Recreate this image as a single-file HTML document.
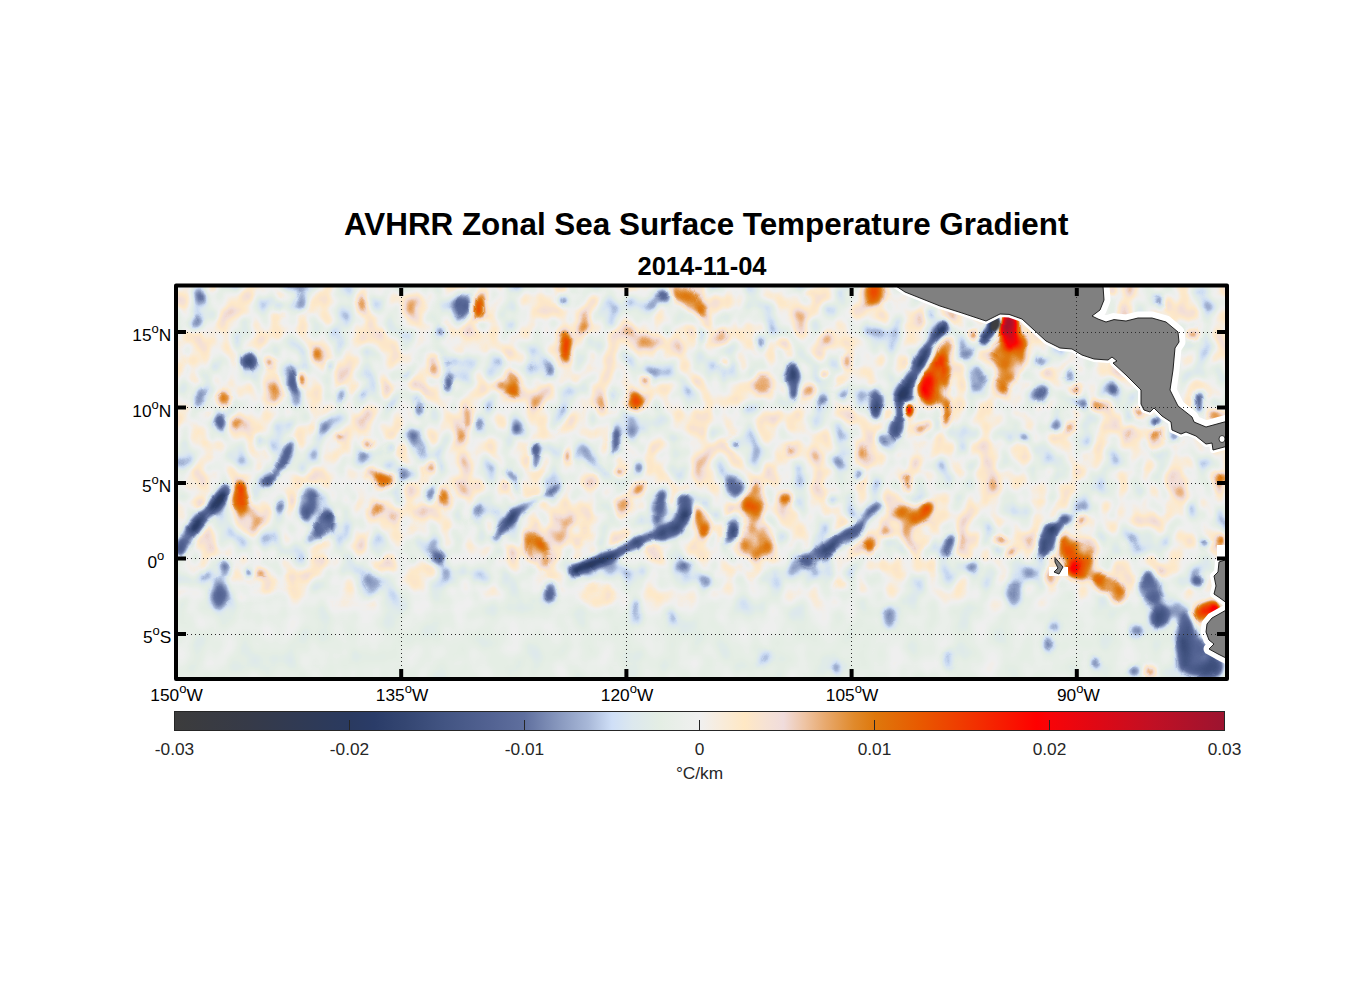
<!DOCTYPE html>
<html><head><meta charset="utf-8"><title>AVHRR Zonal Sea Surface Temperature Gradient</title>
<style>
html,body{margin:0;padding:0;background:#fff;}
body{width:1356px;height:1000px;overflow:hidden;font-family:"Liberation Sans",sans-serif;}
svg{display:block}
text{font-family:"Liberation Sans",sans-serif;}
.t{font-size:17.3px;fill:#000}
.c{font-size:17.3px;fill:#262626}
.s{font-size:13px}
</style></head><body>
<svg width="1356" height="1000" viewBox="0 0 1356 1000">
<defs>
<linearGradient id="cb" x1="0" x2="1" y1="0" y2="0">
<stop offset="0" stop-color="#3c3c3c"/>
<stop offset="0.07" stop-color="#363a48"/>
<stop offset="0.167" stop-color="#2a3a60"/>
<stop offset="0.19" stop-color="#2a3c68"/>
<stop offset="0.22" stop-color="#344672"/>
<stop offset="0.256" stop-color="#425482"/>
<stop offset="0.3" stop-color="#526292"/>
<stop offset="0.333" stop-color="#5f6f9e"/>
<stop offset="0.366" stop-color="#8898be"/>
<stop offset="0.394" stop-color="#a8b8d8"/>
<stop offset="0.4167" stop-color="#cfdff7"/>
<stop offset="0.436" stop-color="#dce8ee"/>
<stop offset="0.462" stop-color="#e4eee4"/>
<stop offset="0.5" stop-color="#f0f0f0"/>
<stop offset="0.52" stop-color="#f8ecdc"/>
<stop offset="0.543" stop-color="#ffe8c4"/>
<stop offset="0.563" stop-color="#f6e2d4"/>
<stop offset="0.58" stop-color="#f0dcdc"/>
<stop offset="0.6" stop-color="#eec4a4"/>
<stop offset="0.619" stop-color="#e8aa70"/>
<stop offset="0.647" stop-color="#e08a2c"/>
<stop offset="0.667" stop-color="#de780c"/>
<stop offset="0.709" stop-color="#e85a00"/>
<stop offset="0.751" stop-color="#f03a00"/>
<stop offset="0.793" stop-color="#f81800"/>
<stop offset="0.821" stop-color="#ff0000"/>
<stop offset="0.833" stop-color="#f80408"/>
<stop offset="0.877" stop-color="#e00814"/>
<stop offset="0.933" stop-color="#c01024"/>
<stop offset="1" stop-color="#9c1430"/>
</linearGradient>
<clipPath id="mc"><rect x="178" y="287" width="1047" height="390"/></clipPath>
<!--FILT-->
<filter id="field" x="150" y="260" width="1100" height="445" filterUnits="userSpaceOnUse" color-interpolation-filters="sRGB">
<feTurbulence type="fractalNoise" baseFrequency="0.042 0.034" numOctaves="2" seed="7" result="n0"/>
<feColorMatrix in="n0" type="matrix" values="1 0 0 0 0  1 0 0 0 0  1 0 0 0 0  0 0 0 0 1" result="n"/>
<feFlood flood-color="#686868" flood-opacity="0.74" x="150" y="592" width="1100" height="130" result="fl"/>
<feGaussianBlur in="fl" stdDeviation="0.5 18" x="150" y="260" width="1100" height="445" result="flb"/>
<feMerge result="nm"><feMergeNode in="n"/><feMergeNode in="flb"/></feMerge>
<feGaussianBlur in="SourceGraphic" stdDeviation="3.2" result="sb"/>
<feTurbulence type="fractalNoise" baseFrequency="0.05" numOctaves="1" seed="11" result="dn"/>
<feDisplacementMap in="sb" in2="dn" scale="6" xChannelSelector="R" yChannelSelector="G" result="sd"/>
<feComposite in="sd" in2="nm" operator="arithmetic" k1="0" k2="1" k3="0.35" k4="-0.181" result="f"/>
<feComponentTransfer in="f">
<feFuncR type="table" tableValues="0.235 0.231 0.227 0.223 0.218 0.214 0.209 0.203 0.197 0.191 0.185 0.179 0.173 0.167 0.165 0.165 0.178 0.194 0.212 0.231 0.250 0.268 0.286 0.304 0.322 0.341 0.360 0.394 0.455 0.516 0.574 0.630 0.699 0.783 0.834 0.865 0.880 0.895 0.910 0.926 0.941 0.961 0.979 0.993 0.988 0.966 0.948 0.938 0.933 0.918 0.903 0.889 0.877 0.872 0.878 0.890 0.901 0.912 0.922 0.931 0.940 0.950 0.959 0.968 0.979 0.992 0.991 0.963 0.936 0.909 0.883 0.855 0.827 0.799 0.771 0.743 0.717 0.691 0.664 0.638 0.612"/>
<feFuncG type="table" tableValues="0.235 0.234 0.232 0.231 0.230 0.228 0.227 0.227 0.227 0.227 0.227 0.227 0.227 0.227 0.230 0.234 0.248 0.265 0.282 0.301 0.320 0.338 0.353 0.369 0.384 0.404 0.423 0.457 0.518 0.579 0.636 0.692 0.762 0.846 0.890 0.911 0.922 0.933 0.936 0.939 0.941 0.931 0.922 0.914 0.902 0.887 0.870 0.827 0.769 0.702 0.640 0.584 0.531 0.486 0.448 0.413 0.378 0.342 0.305 0.268 0.230 0.191 0.151 0.112 0.071 0.029 0.005 0.017 0.022 0.026 0.031 0.037 0.044 0.051 0.058 0.064 0.067 0.070 0.073 0.076 0.078"/>
<feFuncB type="table" tableValues="0.235 0.244 0.252 0.261 0.269 0.277 0.287 0.299 0.311 0.324 0.336 0.348 0.360 0.372 0.387 0.404 0.421 0.437 0.456 0.478 0.499 0.519 0.537 0.555 0.573 0.590 0.608 0.637 0.684 0.732 0.778 0.823 0.879 0.946 0.953 0.931 0.912 0.895 0.910 0.926 0.941 0.892 0.842 0.791 0.791 0.830 0.854 0.780 0.643 0.509 0.382 0.263 0.154 0.075 0.038 0.024 0.010 0.000 0.000 0.000 0.000 0.000 0.000 0.000 0.000 0.000 0.010 0.036 0.050 0.063 0.076 0.090 0.104 0.118 0.132 0.144 0.153 0.162 0.171 0.179 0.188"/>
<feFuncA type="linear" slope="0" intercept="1"/>
</feComponentTransfer>
</filter>
<!--/FILT-->
<filter id="b1" x="-30%" y="-30%" width="160%" height="160%"><feGaussianBlur stdDeviation="1"/></filter>
</defs>
<rect width="1356" height="1000" fill="#fff"/>
<!-- title -->
<text x="706.2" y="235" text-anchor="middle" font-size="31.4" font-weight="bold" fill="#000">AVHRR Zonal Sea Surface Temperature Gradient</text>
<text x="702" y="275" text-anchor="middle" font-size="25.5" font-weight="bold" fill="#000">2014-11-04</text>
<!-- map -->
<g clip-path="url(#mc)" id="map">
<rect x="176" y="285" width="1051" height="394" fill="#eef0ee"/>

<!--BLOBS-->
<g filter="url(#field)">
<rect x="150" y="260" width="1100" height="445" fill="#808080"/>
<ellipse cx="237" cy="424" rx="4.9" ry="6" fill="#909090"/>
<ellipse cx="368" cy="444" rx="4.9" ry="7.1" fill="#939393"/>
<ellipse cx="357" cy="389" rx="8.2" ry="4.9" fill="#929292" transform="rotate(-40 357 389)"/>
<ellipse cx="181" cy="361" rx="3.8" ry="11.5" fill="#8d8d8d"/>
<ellipse cx="646" cy="350" rx="22.5" ry="15.9" fill="#8c8c8c"/>
<ellipse cx="952" cy="321" rx="4.9" ry="7.1" fill="#8e8e8e"/>
<ellipse cx="725" cy="363" rx="4.9" ry="4.9" fill="#b4b4b4"/>
<ellipse cx="806" cy="292" rx="4.9" ry="6" fill="#939393"/>
<ellipse cx="1126" cy="432" rx="6" ry="6" fill="#8e8e8e"/>
<ellipse cx="390" cy="514" rx="6" ry="6" fill="#8e8e8e"/>
<ellipse cx="252" cy="522" rx="9.3" ry="15.9" fill="#8c8c8c"/>
<ellipse cx="276" cy="585" rx="44.5" ry="6" fill="#8c8c8c" transform="rotate(-20 276 585)"/>
<ellipse cx="558" cy="532" rx="33.5" ry="13.7" fill="#8c8c8c"/>
<ellipse cx="598" cy="596" rx="18.1" ry="13.7" fill="#909090"/>
<ellipse cx="752" cy="568" rx="13.7" ry="9.3" fill="#909090"/>
<ellipse cx="840" cy="584" rx="6" ry="6" fill="#979797"/>
<ellipse cx="755" cy="529" rx="3.25" ry="3.25" fill="#919191"/>
<ellipse cx="1190" cy="591" rx="2.7" ry="2.7" fill="#a4a4a4"/>
<ellipse cx="385" cy="390" rx="7.1" ry="9.3" fill="#959595"/>
<ellipse cx="318" cy="356" rx="4.9" ry="8.2" fill="#989898"/>
<ellipse cx="784" cy="344" rx="6" ry="7.1" fill="#9b9b9b"/>
<ellipse cx="916" cy="540" rx="18.1" ry="9.3" fill="#999999"/>
<ellipse cx="1090" cy="546" rx="11.5" ry="9.3" fill="#959595"/>
<ellipse cx="201" cy="295" rx="6" ry="6" fill="#676767"/>
<ellipse cx="301" cy="302" rx="6" ry="13.7" fill="#6b6b6b" transform="rotate(20 301 302)"/>
<ellipse cx="410" cy="372" rx="9.3" ry="4.9" fill="#5c5c5c" transform="rotate(-35 410 372)"/>
<ellipse cx="258" cy="442" rx="6" ry="8.2" fill="#696969"/>
<ellipse cx="322" cy="428" rx="4.9" ry="7.1" fill="#676767"/>
<ellipse cx="389" cy="446" rx="4.9" ry="7.1" fill="#555555"/>
<ellipse cx="330" cy="366" rx="4.9" ry="7.1" fill="#585858" transform="rotate(30 330 366)"/>
<ellipse cx="282" cy="306" rx="4.9" ry="6" fill="#656565"/>
<ellipse cx="654" cy="302" rx="3.8" ry="9.3" fill="#676767"/>
<ellipse cx="454" cy="361" rx="4.9" ry="7.1" fill="#676767"/>
<ellipse cx="612" cy="400" rx="4.9" ry="9.3" fill="#5c5c5c"/>
<ellipse cx="600" cy="472" rx="4.9" ry="6" fill="#626262"/>
<ellipse cx="701" cy="338" rx="3.8" ry="9.3" fill="#5c5c5c"/>
<ellipse cx="514" cy="430" rx="3.8" ry="6" fill="#626262"/>
<ellipse cx="480" cy="422" rx="3.8" ry="6" fill="#626262"/>
<ellipse cx="840" cy="392" rx="11.5" ry="9.3" fill="#6b6b6b"/>
<ellipse cx="930" cy="314" rx="4.9" ry="6" fill="#656565"/>
<ellipse cx="1112" cy="388" rx="3.8" ry="7.1" fill="#646464"/>
<ellipse cx="206" cy="576" rx="6" ry="6" fill="#676767"/>
<ellipse cx="516" cy="488" rx="6" ry="6" fill="#636363"/>
<ellipse cx="706" cy="580" rx="6" ry="6" fill="#676767"/>
<ellipse cx="686" cy="566" rx="6" ry="4.9" fill="#656565"/>
<ellipse cx="636" cy="612" rx="6" ry="13.7" fill="#6b6b6b"/>
<ellipse cx="672" cy="616" rx="4.9" ry="9.3" fill="#696969"/>
<ellipse cx="834" cy="500" rx="6" ry="4.9" fill="#656565"/>
<ellipse cx="764" cy="658" rx="4.9" ry="9.3" fill="#696969" transform="rotate(20 764 658)"/>
<ellipse cx="948" cy="660" rx="6" ry="10.4" fill="#6a6a6a"/>
<ellipse cx="836" cy="668" rx="3.8" ry="7.1" fill="#646464"/>
<ellipse cx="1054" cy="627" rx="4.9" ry="4.9" fill="#626262"/>
<ellipse cx="1200" cy="664" rx="3.25" ry="7.1" fill="#626262"/>
<ellipse cx="363" cy="304" rx="6" ry="8.2" fill="#9d9d9d"/>
<ellipse cx="270" cy="362" rx="4.9" ry="4.9" fill="#bbbbbb"/>
<ellipse cx="272" cy="393" rx="8.2" ry="10.4" fill="#8f8f8f"/>
<ellipse cx="436" cy="366" rx="7.1" ry="12.6" fill="#a2a2a2"/>
<ellipse cx="237" cy="424" rx="3.25" ry="4.35" fill="#9f9f9f"/>
<ellipse cx="339" cy="437" rx="3.8" ry="3.8" fill="#bdbdbd"/>
<ellipse cx="368" cy="445" rx="3.25" ry="4.9" fill="#d6d6d6"/>
<ellipse cx="370" cy="473" rx="6" ry="4.9" fill="#a8a8a8"/>
<ellipse cx="431" cy="467" rx="4.9" ry="6" fill="#b4b4b4"/>
<ellipse cx="583" cy="321" rx="9.3" ry="10.4" fill="#909090" transform="rotate(-30 583 321)"/>
<ellipse cx="698" cy="306" rx="10.4" ry="8.2" fill="#9f9f9f" transform="rotate(40 698 306)"/>
<ellipse cx="502" cy="386" rx="7.1" ry="7.1" fill="#a2a2a2"/>
<ellipse cx="468" cy="418" rx="4.35" ry="11.5" fill="#acacac"/>
<ellipse cx="462" cy="438" rx="6" ry="7.1" fill="#8f8f8f"/>
<ellipse cx="646" cy="380" rx="3.8" ry="6" fill="#b7b7b7"/>
<ellipse cx="569" cy="457" rx="3.25" ry="7.1" fill="#c9c9c9"/>
<ellipse cx="618" cy="472" rx="3.8" ry="3.8" fill="#bbbbbb"/>
<ellipse cx="763" cy="384" rx="9.3" ry="10.4" fill="#9f9f9f"/>
<ellipse cx="810" cy="392" rx="8.2" ry="4.9" fill="#a4a4a4" transform="rotate(-40 810 392)"/>
<ellipse cx="845" cy="361" rx="4.35" ry="8.2" fill="#ababab"/>
<ellipse cx="824" cy="374" rx="3.25" ry="3.25" fill="#dfdfdf"/>
<ellipse cx="924" cy="427" rx="9.3" ry="4.9" fill="#afafaf" transform="rotate(-25 924 427)"/>
<ellipse cx="861" cy="449" rx="4.35" ry="9.3" fill="#9f9f9f"/>
<ellipse cx="790" cy="452" rx="4.9" ry="7.1" fill="#a6a6a6"/>
<ellipse cx="975" cy="335" rx="4.9" ry="6" fill="#b9b9b9" transform="rotate(30 975 335)"/>
<ellipse cx="721" cy="336" rx="6" ry="8.2" fill="#a8a8a8"/>
<ellipse cx="906" cy="478" rx="4.9" ry="4.9" fill="#afafaf"/>
<ellipse cx="1097" cy="406" rx="7.1" ry="6" fill="#9c9c9c" transform="rotate(-20 1097 406)"/>
<ellipse cx="1076" cy="389" rx="3.8" ry="6" fill="#c0c0c0"/>
<ellipse cx="1071" cy="427" rx="3.8" ry="7.1" fill="#aaaaaa"/>
<ellipse cx="1156" cy="441" rx="7.1" ry="11.5" fill="#b0b0b0"/>
<ellipse cx="1138" cy="413" rx="6" ry="4.9" fill="#acacac"/>
<ellipse cx="1193" cy="336" rx="6" ry="4.9" fill="#b7b7b7"/>
<ellipse cx="1216" cy="414" rx="7.1" ry="7.1" fill="#a2a2a2"/>
<ellipse cx="376" cy="508" rx="7.1" ry="7.1" fill="#949494"/>
<ellipse cx="262" cy="572" rx="5.45" ry="6" fill="#a7a7a7"/>
<ellipse cx="537" cy="550" rx="11.5" ry="21.4" fill="#9f9f9f" transform="rotate(-22 537 550)"/>
<ellipse cx="622" cy="506" rx="8.2" ry="11.5" fill="#989898" transform="rotate(10 622 506)"/>
<ellipse cx="640" cy="490" rx="9.3" ry="3.8" fill="#a5a5a5" transform="rotate(-45 640 490)"/>
<ellipse cx="755" cy="505" rx="11.5" ry="19.2" fill="#9f9f9f"/>
<ellipse cx="748" cy="538" rx="9.3" ry="14.8" fill="#9f9f9f"/>
<ellipse cx="766" cy="540" rx="9.3" ry="19.2" fill="#9f9f9f"/>
<ellipse cx="758" cy="552" rx="14.8" ry="8.2" fill="#9f9f9f"/>
<ellipse cx="786" cy="500" rx="7.1" ry="8.2" fill="#a1a1a1"/>
<ellipse cx="870" cy="543" rx="6.55" ry="10.4" fill="#a0a0a0"/>
<ellipse cx="903" cy="521" rx="25.8" ry="12.6" fill="#9f9f9f" transform="rotate(-30 903 521)"/>
<ellipse cx="887" cy="527" rx="7.1" ry="9.3" fill="#a0a0a0"/>
<ellipse cx="906" cy="488" rx="3.8" ry="7.1" fill="#c4c4c4"/>
<ellipse cx="1052" cy="576" rx="7.1" ry="9.3" fill="#a6a6a6"/>
<ellipse cx="1010" cy="552" rx="7.1" ry="3.8" fill="#aeaeae" transform="rotate(-30 1010 552)"/>
<ellipse cx="1000" cy="540" rx="9.3" ry="6" fill="#afafaf"/>
<ellipse cx="1081" cy="519" rx="3.8" ry="6" fill="#b8b8b8"/>
<ellipse cx="1222" cy="540" rx="3.8" ry="7.1" fill="#aaaaaa"/>
<ellipse cx="1220" cy="486" rx="3.8" ry="9.3" fill="#aaaaaa"/>
<ellipse cx="1150" cy="672" rx="6" ry="6" fill="#ababab"/>
<ellipse cx="195" cy="323" rx="7.1" ry="7.1" fill="#616161"/>
<ellipse cx="302" cy="305" rx="3.8" ry="9.3" fill="#575757" transform="rotate(20 302 305)"/>
<ellipse cx="285" cy="371" rx="7.1" ry="8.2" fill="#5c5c5c"/>
<ellipse cx="200" cy="396" rx="7.1" ry="11.5" fill="#626262" transform="rotate(10 200 396)"/>
<ellipse cx="340" cy="396" rx="6" ry="11.5" fill="#5d5d5d" transform="rotate(15 340 396)"/>
<ellipse cx="419" cy="404" rx="4.9" ry="13.7" fill="#4f4f4f"/>
<ellipse cx="416" cy="444" rx="8.2" ry="13.7" fill="#6b6b6b" transform="rotate(-20 416 444)"/>
<ellipse cx="410" cy="474" rx="10.4" ry="7.1" fill="#585858"/>
<ellipse cx="443" cy="330" rx="6" ry="6" fill="#575757"/>
<ellipse cx="463" cy="306" rx="10.4" ry="13.7" fill="#5e5e5e" transform="rotate(15 463 306)"/>
<ellipse cx="563" cy="300" rx="3.8" ry="7.1" fill="#434343"/>
<ellipse cx="551" cy="369" rx="4.9" ry="7.1" fill="#5f5f5f"/>
<ellipse cx="639" cy="467" rx="5.45" ry="6.55" fill="#5c5c5c"/>
<ellipse cx="510" cy="476" rx="8.2" ry="4.9" fill="#505050" transform="rotate(30 510 476)"/>
<ellipse cx="761" cy="342" rx="3.8" ry="7.1" fill="#4f4f4f"/>
<ellipse cx="880" cy="438" rx="4.9" ry="8.2" fill="#595959"/>
<ellipse cx="966" cy="355" rx="9.3" ry="4.9" fill="#636363" transform="rotate(-20 966 355)"/>
<ellipse cx="976" cy="378" rx="9.3" ry="13.7" fill="#636363"/>
<ellipse cx="842" cy="394" rx="7.1" ry="6" fill="#525252"/>
<ellipse cx="822" cy="400" rx="4.35" ry="4.35" fill="#565656"/>
<ellipse cx="837" cy="461" rx="8.2" ry="4.9" fill="#6c6c6c" transform="rotate(50 837 461)"/>
<ellipse cx="858" cy="476" rx="4.9" ry="4.9" fill="#4c4c4c"/>
<ellipse cx="733" cy="444" rx="4.9" ry="4.9" fill="#464646"/>
<ellipse cx="732" cy="481" rx="4.9" ry="3.8" fill="#505050"/>
<ellipse cx="1042" cy="361" rx="7.1" ry="6" fill="#575757"/>
<ellipse cx="1068" cy="375" rx="4.9" ry="6" fill="#454545"/>
<ellipse cx="1082" cy="404" rx="7.1" ry="4.9" fill="#575757" transform="rotate(-30 1082 404)"/>
<ellipse cx="1056" cy="426" rx="8.2" ry="6" fill="#5b5b5b" transform="rotate(-20 1056 426)"/>
<ellipse cx="1173" cy="438" rx="4.9" ry="6" fill="#545454" transform="rotate(30 1173 438)"/>
<ellipse cx="1160" cy="301" rx="3.8" ry="8.2" fill="#4a4a4a"/>
<ellipse cx="1024" cy="437" rx="3.8" ry="3.8" fill="#4d4d4d"/>
<ellipse cx="312" cy="538" rx="7.1" ry="7.1" fill="#5b5b5b"/>
<ellipse cx="268" cy="486" rx="6" ry="8.2" fill="#8e8e8e" transform="rotate(30 268 486)"/>
<ellipse cx="280" cy="506" rx="7.1" ry="4.9" fill="#575757" transform="rotate(-40 280 506)"/>
<ellipse cx="224" cy="570" rx="6" ry="9.3" fill="#5c5c5c" transform="rotate(10 224 570)"/>
<ellipse cx="372" cy="584" rx="9.3" ry="15.9" fill="#656565" transform="rotate(8 372 584)"/>
<ellipse cx="431" cy="496" rx="4.9" ry="9.3" fill="#606060"/>
<ellipse cx="250" cy="572" rx="2.7" ry="3.8" fill="#282828"/>
<ellipse cx="476" cy="514" rx="6" ry="11.5" fill="#646464" transform="rotate(20 476 514)"/>
<ellipse cx="663" cy="508" rx="4.9" ry="13.7" fill="#5d5d5d"/>
<ellipse cx="890" cy="618" rx="7.1" ry="11.5" fill="#666666"/>
<ellipse cx="972" cy="566" rx="6" ry="3.8" fill="#5d5d5d" transform="rotate(-30 972 566)"/>
<ellipse cx="1029" cy="570" rx="9.3" ry="7.1" fill="#787878"/>
<ellipse cx="1014" cy="594" rx="8.2" ry="13.7" fill="#5e5e5e"/>
<ellipse cx="1150" cy="586" rx="11.5" ry="15.9" fill="#5e5e5e"/>
<ellipse cx="1180" cy="610" rx="9.3" ry="9.3" fill="#5e5e5e"/>
<ellipse cx="1136" cy="632" rx="6" ry="6" fill="#575757"/>
<ellipse cx="1134" cy="672" rx="7.1" ry="4.9" fill="#575757"/>
<ellipse cx="1095" cy="662" rx="3.8" ry="6" fill="#505050"/>
<ellipse cx="1048" cy="644" rx="6" ry="6" fill="#5d5d5d"/>
<ellipse cx="1204" cy="544" rx="4.9" ry="4.9" fill="#3d3d3d"/>
<polyline points="514,514 532,502 546,494 560,488" fill="none" stroke="#505050" stroke-width="5" stroke-linecap="round" stroke-linejoin="round"/>
<polyline points="656,522 660,505 662,492" fill="none" stroke="#525252" stroke-width="7" stroke-linecap="round" stroke-linejoin="round"/>
<polyline points="858,528 870,514 882,504" fill="none" stroke="#505050" stroke-width="5" stroke-linecap="round" stroke-linejoin="round"/>
<ellipse cx="225" cy="400" rx="7.1" ry="9.3" fill="#b4b4b4"/>
<ellipse cx="301" cy="379" rx="2.26" ry="8.2" fill="#f0f0f0"/>
<ellipse cx="384" cy="478" rx="9.3" ry="6" fill="#adadad"/>
<ellipse cx="480" cy="308" rx="6" ry="13.7" fill="#b0b0b0"/>
<ellipse cx="566" cy="348" rx="4.9" ry="15.9" fill="#ababab"/>
<ellipse cx="686" cy="297" rx="18.1" ry="9.3" fill="#aaaaaa" transform="rotate(40 686 297)"/>
<ellipse cx="512" cy="384" rx="8.2" ry="14.8" fill="#a4a4a4" transform="rotate(-8 512 384)"/>
<ellipse cx="634" cy="402" rx="8.2" ry="10.4" fill="#ababab"/>
<ellipse cx="876" cy="294" rx="10.4" ry="11.5" fill="#aaaaaa"/>
<ellipse cx="934" cy="384" rx="14.8" ry="23.6" fill="#aaaaaa" transform="rotate(5 934 384)"/>
<ellipse cx="945" cy="350" rx="6" ry="18.1" fill="#ababab" transform="rotate(18 945 350)"/>
<ellipse cx="946" cy="412" rx="4.9" ry="15.9" fill="#c4c4c4" transform="rotate(-5 946 412)"/>
<ellipse cx="1011" cy="356" rx="18.1" ry="24.7" fill="#aaaaaa"/>
<ellipse cx="1002" cy="384" rx="7.1" ry="11.5" fill="#ababab"/>
<ellipse cx="1222" cy="477" rx="4.9" ry="6" fill="#b8b8b8"/>
<ellipse cx="1112" cy="290" rx="2.7" ry="2.7" fill="#bdbdbd"/>
<ellipse cx="240" cy="499" rx="9.3" ry="18.1" fill="#aaaaaa"/>
<ellipse cx="385" cy="482" rx="9.3" ry="4.9" fill="#b0b0b0"/>
<ellipse cx="444" cy="498" rx="4.9" ry="9.3" fill="#b2b2b2"/>
<ellipse cx="538" cy="551" rx="8.2" ry="17" fill="#afafaf" transform="rotate(-22 538 551)"/>
<ellipse cx="702" cy="520" rx="8.2" ry="17" fill="#b3b3b3" transform="rotate(-15 702 520)"/>
<ellipse cx="752" cy="514" rx="6" ry="8.2" fill="#939393"/>
<ellipse cx="764" cy="548" rx="6" ry="9.3" fill="#9b9b9b"/>
<ellipse cx="786" cy="499" rx="4.9" ry="4.9" fill="#b8b8b8"/>
<ellipse cx="870" cy="544" rx="4.35" ry="7.1" fill="#aeaeae"/>
<ellipse cx="922" cy="512" rx="13.7" ry="8.2" fill="#ababab" transform="rotate(-35 922 512)"/>
<ellipse cx="1068" cy="548" rx="11.5" ry="13.7" fill="#aaaaaa"/>
<ellipse cx="1082" cy="564" rx="13.7" ry="15.9" fill="#aaaaaa"/>
<ellipse cx="1106" cy="584" rx="15.9" ry="9.3" fill="#b2b2b2" transform="rotate(25 1106 584)"/>
<ellipse cx="1118" cy="596" rx="9.3" ry="9.3" fill="#b2b2b2"/>
<ellipse cx="1196" cy="620" rx="8.2" ry="11.5" fill="#ababab" transform="rotate(25 1196 620)"/>
<ellipse cx="293" cy="390" rx="7.1" ry="18.1" fill="#5a5a5a" transform="rotate(-8 293 390)"/>
<ellipse cx="219" cy="422" rx="6" ry="10.4" fill="#555555" transform="rotate(-10 219 422)"/>
<ellipse cx="465" cy="308" rx="7.1" ry="9.3" fill="#5e5e5e" transform="rotate(15 465 308)"/>
<ellipse cx="664" cy="297" rx="6" ry="7.1" fill="#4a4a4a"/>
<ellipse cx="448" cy="385" rx="2.7" ry="8.2" fill="#292929"/>
<ellipse cx="536" cy="456" rx="4.9" ry="13.7" fill="#404040"/>
<ellipse cx="615" cy="442" rx="5.45" ry="14.8" fill="#4c4c4c"/>
<ellipse cx="1040" cy="394" rx="7.1" ry="9.3" fill="#4e4e4e"/>
<ellipse cx="1157" cy="420" rx="6" ry="4.9" fill="#3b3b3b"/>
<ellipse cx="1199" cy="402" rx="3.8" ry="11.5" fill="#292929"/>
<ellipse cx="307" cy="502" rx="9.3" ry="19.2" fill="#565656" transform="rotate(8 307 502)"/>
<ellipse cx="324" cy="526" rx="9.3" ry="15.9" fill="#414141" transform="rotate(25 324 526)"/>
<ellipse cx="220" cy="590" rx="8.2" ry="20.3" fill="#5c5c5c" transform="rotate(5 220 590)"/>
<ellipse cx="437" cy="559" rx="9.3" ry="7.1" fill="#565656"/>
<ellipse cx="550" cy="592" rx="6" ry="10.4" fill="#535353"/>
<ellipse cx="733" cy="489" rx="9.3" ry="10.4" fill="#686868"/>
<ellipse cx="731" cy="529" rx="7.1" ry="18.1" fill="#505050" transform="rotate(15 731 529)"/>
<ellipse cx="950" cy="544" rx="7.1" ry="12.6" fill="#484848" transform="rotate(20 950 544)"/>
<ellipse cx="1065" cy="519" rx="6" ry="6" fill="#464646"/>
<ellipse cx="1058" cy="528" rx="4.9" ry="7.1" fill="#464646" transform="rotate(35 1058 528)"/>
<ellipse cx="1148" cy="582" rx="6" ry="9.3" fill="#545454"/>
<ellipse cx="1156" cy="596" rx="6" ry="7.1" fill="#525252"/>
<ellipse cx="1160" cy="616" rx="10.4" ry="12.6" fill="#505050"/>
<ellipse cx="1186" cy="640" rx="10.4" ry="29.1" fill="#505050"/>
<ellipse cx="1192" cy="666" rx="13.7" ry="10.4" fill="#505050"/>
<ellipse cx="1199" cy="648" rx="9.3" ry="10.4" fill="#505050"/>
<ellipse cx="1214" cy="652" rx="6" ry="7.1" fill="#4a4a4a"/>
<ellipse cx="1198" cy="582" rx="6" ry="4.9" fill="#515151"/>
<ellipse cx="1166" cy="674" rx="7.1" ry="4.9" fill="#797979"/>
<polyline points="292,444 284,460 276,474 266,484" fill="none" stroke="#444444" stroke-width="8" stroke-linecap="round" stroke-linejoin="round"/>
<polyline points="945,325 932,342 920,360" fill="none" stroke="#3f3f3f" stroke-width="7" stroke-linecap="round" stroke-linejoin="round"/>
<polyline points="226,490 212,508 198,524 186,538 180,548" fill="none" stroke="#4e4e4e" stroke-width="13" stroke-linecap="round" stroke-linejoin="round"/>
<polyline points="496,538 504,526 514,514" fill="none" stroke="#474747" stroke-width="9" stroke-linecap="round" stroke-linejoin="round"/>
<polyline points="806,560 828,549 846,540 856,530" fill="none" stroke="#4e4e4e" stroke-width="13" stroke-linecap="round" stroke-linejoin="round"/>
<ellipse cx="247.6" cy="360" rx="8.2" ry="8.2" fill="#3d3d3d"/>
<ellipse cx="793" cy="382" rx="7.1" ry="19.2" fill="#404040"/>
<ellipse cx="876" cy="404" rx="6.55" ry="15.9" fill="#494949"/>
<ellipse cx="984" cy="340" rx="7.1" ry="10.4" fill="#6c6c6c"/>
<ellipse cx="730" cy="534" rx="4.9" ry="10.4" fill="#3a3a3a" transform="rotate(15 730 534)"/>
<ellipse cx="680" cy="511" rx="9.3" ry="18.1" fill="#676767" transform="rotate(12 680 511)"/>
<ellipse cx="1048" cy="540" rx="9.3" ry="15.9" fill="#3c3c3c" transform="rotate(10 1048 540)"/>
<ellipse cx="1158" cy="618" rx="6" ry="7.1" fill="#474747"/>
<ellipse cx="1184" cy="652" rx="7.1" ry="15.9" fill="#474747"/>
<ellipse cx="1212" cy="667" rx="10.4" ry="10.4" fill="#464646"/>
<ellipse cx="1204" cy="671" rx="13.7" ry="7.1" fill="#464646"/>
<polyline points="926,352 913,374 904,396 900,420" fill="none" stroke="#3d3d3d" stroke-width="13" stroke-linecap="round" stroke-linejoin="round"/>
<polyline points="908,384 902,404" fill="none" stroke="#3f3f3f" stroke-width="15" stroke-linecap="round" stroke-linejoin="round"/>
<polyline points="899,422 897,431" fill="none" stroke="#363636" stroke-width="14" stroke-linecap="round" stroke-linejoin="round"/>
<polyline points="997,322 992,332 984,342" fill="none" stroke="#282828" stroke-width="7" stroke-linecap="round" stroke-linejoin="round"/>
<polyline points="222,496 206,514 192,530" fill="none" stroke="#2f2f2f" stroke-width="8" stroke-linecap="round" stroke-linejoin="round"/>
<polyline points="576,570 600,560 626,548 646,538 664,534" fill="none" stroke="#323232" stroke-width="10" stroke-linecap="round" stroke-linejoin="round"/>
<polyline points="664,534 678,526 686,512 683,500" fill="none" stroke="#3d3d3d" stroke-width="13" stroke-linecap="round" stroke-linejoin="round"/>
<polyline points="826,548 838,538 850,530" fill="none" stroke="#313131" stroke-width="10" stroke-linecap="round" stroke-linejoin="round"/>
<ellipse cx="480" cy="309" rx="3.8" ry="8.2" fill="#e0e0e0"/>
<ellipse cx="566" cy="350" rx="3.25" ry="10.4" fill="#b1b1b1"/>
<ellipse cx="634" cy="402" rx="4.9" ry="6" fill="#b1b1b1"/>
<ellipse cx="876" cy="292" rx="6" ry="7.1" fill="#adadad"/>
<ellipse cx="938" cy="378" rx="10.4" ry="15.9" fill="#b8b8b8" transform="rotate(8 938 378)"/>
<ellipse cx="931" cy="386" rx="10.4" ry="15.9" fill="#b8b8b8"/>
<ellipse cx="908" cy="410" rx="4.35" ry="9.3" fill="#c1c1c1"/>
<ellipse cx="1010" cy="338" rx="9.3" ry="13.7" fill="#b8b8b8"/>
<ellipse cx="240" cy="497" rx="6" ry="11.5" fill="#bababa"/>
<ellipse cx="924" cy="510" rx="7.1" ry="4.9" fill="#b7b7b7" transform="rotate(-35 924 510)"/>
<ellipse cx="1073" cy="566" rx="7.1" ry="12.6" fill="#b8b8b8"/>
<ellipse cx="1066" cy="550" rx="6" ry="7.1" fill="#bababa"/>
<ellipse cx="1205" cy="610" rx="14.8" ry="8.2" fill="#b8b8b8" transform="rotate(-30 1205 610)"/>
<ellipse cx="929" cy="385" rx="7.1" ry="11.5" fill="#d1d1d1"/>
<ellipse cx="908" cy="411" rx="2.7" ry="6" fill="#ffffff"/>
<ellipse cx="1009" cy="336" rx="8.2" ry="11.5" fill="#d1d1d1"/>
<ellipse cx="1073" cy="568" rx="4.9" ry="8.2" fill="#d4d4d4"/>
<ellipse cx="1207" cy="609" rx="11.5" ry="6" fill="#d3d3d3" transform="rotate(-30 1207 609)"/>
<ellipse cx="1009" cy="324" rx="8.2" ry="12.6" fill="#fafafa"/>
<ellipse cx="1215" cy="610" rx="6" ry="4.35" fill="#fafafa" transform="rotate(-30 1215 610)"/>
<polyline points="996,320 993,328" fill="none" stroke="#000000" stroke-width="7" stroke-linecap="round" stroke-linejoin="round"/>
</g>
<!--/BLOBS-->
<!--LAND-->
<ellipse cx="995.5" cy="325" rx="4.6" ry="6.5" transform="rotate(25 995.5 325)" fill="#3d3d40" filter="url(#b1)"/>
<polyline points="1103,286 1104,300 1100,310 1092,316 1098,319 1106,322 1114,319.6 1126,321 1138,318 1152,318 1166,322 1178,332 1179,342 1175,348 1173,370 1170,390 1178,406 1192,417 1194,422 1206,427 1228,421" fill="none" stroke="#fff" stroke-width="13" stroke-linejoin="round"/>
<polygon points="896,286 905,292 920,298 940,306 962,313 986,321 1000,314 1009,314.4 1022,319 1034,330 1046,341 1060,348 1072,349 1082,355 1094,359 1108,360 1112,357 1117,361 1113,363 1126,375 1141,390 1141,404 1144,410 1150,412 1154,408 1162,416 1171,422 1172,430 1181,434 1186,432 1196,436 1206,444 1212,443 1213,450 1228,446 1228,421 1206,427 1194,422 1192,417 1178,406 1170,390 1173,370 1175,348 1179,342 1178,332 1166,322 1152,318 1138,318 1126,321 1114,319.6 1106,322 1098,319 1092,316 1100,310 1104,300 1103,286" fill="#fff" stroke="#fff" stroke-width="6" stroke-linejoin="round"/>
<polygon points="1228,559 1219,562 1218,572 1214,576 1216,586 1214,594 1220,598 1228,604" fill="#fff" stroke="#fff" stroke-width="8" stroke-linejoin="round"/>
<polygon points="1228,609 1212,618 1207,624 1206,632 1209,640 1214,644 1209,649 1218,654 1228,659" fill="#fff" stroke="#fff" stroke-width="11" stroke-linejoin="round"/>
<rect x="1049" y="567" width="19" height="9" fill="#fff"/>
<rect x="1217" y="545" width="9" height="16" fill="#fff"/>
<polygon points="896,286 905,292 920,298 940,306 962,313 986,321 1000,314 1009,314.4 1022,319 1034,330 1046,341 1060,348 1072,349 1082,355 1094,359 1108,360 1112,357 1117,361 1113,363 1126,375 1141,390 1141,404 1144,410 1150,412 1154,408 1162,416 1171,422 1172,430 1181,434 1186,432 1196,436 1206,444 1212,443 1213,450 1228,446 1228,421 1206,427 1194,422 1192,417 1178,406 1170,390 1173,370 1175,348 1179,342 1178,332 1166,322 1152,318 1138,318 1126,321 1114,319.6 1106,322 1098,319 1092,316 1100,310 1104,300 1103,286" fill="#808080" stroke="#111" stroke-width="0.9" stroke-linejoin="round"/>
<polygon points="1228,559 1219,562 1218,572 1214,576 1216,586 1214,594 1220,598 1228,604" fill="#808080" stroke="#111" stroke-width="0.9" stroke-linejoin="round"/>
<polygon points="1228,609 1212,618 1207,624 1206,632 1209,640 1214,644 1209,649 1218,654 1228,659" fill="#808080" stroke="#111" stroke-width="0.9" stroke-linejoin="round"/>
<polygon points="1055,557.6 1063,567 1059,574 1054,572 1058,568 1055,562" fill="#808080" stroke="#111" stroke-width="0.9" stroke-linejoin="round"/>
<ellipse cx="1222" cy="439" rx="3" ry="3.5" fill="#fff" stroke="#111" stroke-width="0.8"/>
<!--/LAND-->
</g>
<!-- grid -->
<g stroke="#2a2a2a" stroke-width="1" stroke-dasharray="1 3" fill="none">
<path d="M187 332.5H1217M187 407.5H1217M187 483.5H1217M187 558.5H1217M187 634.5H1217"/>
<path d="M401.5 297V669M626.5 297V669M851.5 297V669M1076.5 297V669"/>
</g>
<!-- frame -->
<rect x="176" y="285.5" width="1051" height="393.5" fill="none" stroke="#000" stroke-width="4" stroke-linejoin="round"/>
<g stroke="#000" stroke-width="4" fill="none">
<path d="M178 332H186M178 407.5H186M178 483H186M178 558.5H186M178 634H186"/>
<path d="M1225 332H1217M1225 407.5H1217M1225 483H1217M1225 558.5H1217M1225 634H1217"/>
<path d="M401.2 288V296M626.4 288V296M851.6 288V296M1076.8 288V296"/>
<path d="M401.2 677V669M626.4 677V669M851.6 677V669M1076.8 677V669"/>
</g>
<!-- lat labels -->
<g class="t" text-anchor="end" transform="translate(0.3 1.2)">
<text x="171" y="340">15<tspan class="s" dy="-8">o</tspan><tspan dy="8">N</tspan></text>
<text x="171" y="415.5">10<tspan class="s" dy="-8">o</tspan><tspan dy="8">N</tspan></text>
<text x="171" y="491">5<tspan class="s" dy="-8">o</tspan><tspan dy="8">N</tspan></text>
<text x="164" y="566.5">0<tspan class="s" dy="-8">o</tspan></text>
<text x="171" y="642">5<tspan class="s" dy="-8">o</tspan><tspan dy="8">S</tspan></text>
</g>
<!-- lon labels -->
<g class="t" text-anchor="middle">
<text x="176.5" y="700.7">150<tspan class="s" dy="-8">o</tspan><tspan dy="8">W</tspan></text>
<text x="402" y="700.7">135<tspan class="s" dy="-8">o</tspan><tspan dy="8">W</tspan></text>
<text x="627" y="700.7">120<tspan class="s" dy="-8">o</tspan><tspan dy="8">W</tspan></text>
<text x="852" y="700.7">105<tspan class="s" dy="-8">o</tspan><tspan dy="8">W</tspan></text>
<text x="1078.3" y="700.7">90<tspan class="s" dy="-8">o</tspan><tspan dy="8">W</tspan></text>
</g>
<!-- colorbar -->
<rect x="174.5" y="711.5" width="1050" height="19" fill="url(#cb)" stroke="#262626" stroke-width="1"/>
<g stroke="#262626" stroke-width="1" shape-rendering="crispEdges">
<path d="M349.5 720V731M524.5 720V731M699.5 720V731M874.5 720V731M1049.5 720V731"/>
</g>
<g class="c" text-anchor="middle">
<text x="174.5" y="755.2">-0.03</text>
<text x="349.5" y="755.2">-0.02</text>
<text x="524.5" y="755.2">-0.01</text>
<text x="699.5" y="755.2">0</text>
<text x="874.5" y="755.2">0.01</text>
<text x="1049.5" y="755.2">0.02</text>
<text x="1224.5" y="755.2">0.03</text>
<text x="699.5" y="779">°C/km</text>
</g>
</svg>
</body></html>
